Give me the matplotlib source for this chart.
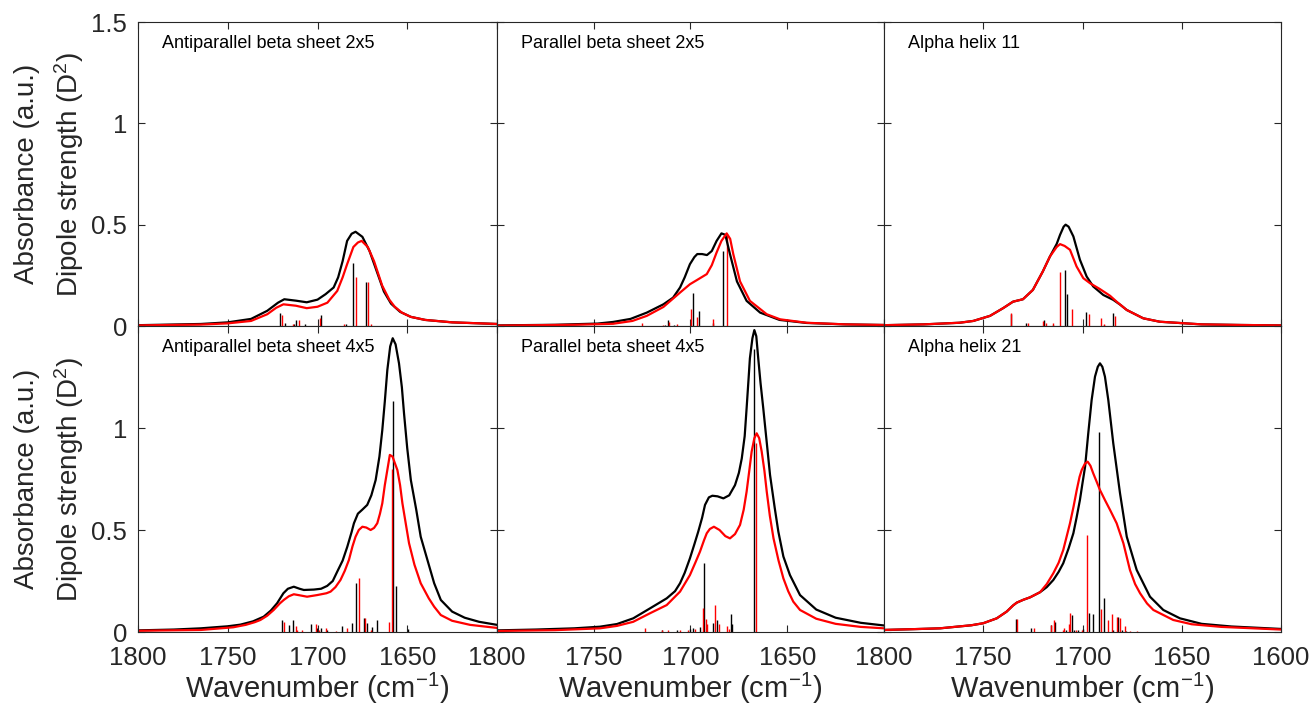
import matplotlib
matplotlib.use('Agg')
import matplotlib.pyplot as plt
import numpy as np

plt.rcParams['font.family'] = ['Liberation Sans', 'DejaVu Sans']
plt.rcParams['mathtext.default'] = 'regular'

# ---- data (wavenumber in cm-1, absorbance / dipole strength) ----

# Antiparallel beta sheet 2x5
anti25_black_wn = [1800, 1765, 1750, 1737, 1728, 1722, 1718.5, 1712, 1706, 1700, 1695.5, 1691, 1688.5, 1686, 1683.5, 1681, 1678.8,
                   1675, 1671, 1667, 1663, 1659, 1654, 1648, 1640, 1625, 1600]
anti25_black = [0.004, 0.01, 0.018, 0.035, 0.075, 0.115, 0.132, 0.125, 0.117, 0.13, 0.157, 0.19, 0.24, 0.32, 0.42, 0.455, 0.465,
                0.44, 0.37, 0.27, 0.17, 0.11, 0.07, 0.045, 0.03, 0.018, 0.01]
anti25_red_wn = [1800, 1765, 1750, 1737, 1728, 1723, 1719, 1712, 1706, 1700, 1694.5, 1689, 1686, 1683.5, 1680, 1677.5, 1675.4,
                 1672, 1668.5, 1664, 1660, 1657, 1653, 1648, 1640, 1625, 1600]
anti25_red = [0.003, 0.007, 0.013, 0.025, 0.058, 0.09, 0.107, 0.1, 0.088, 0.095, 0.115, 0.173, 0.24, 0.305, 0.39, 0.412, 0.42,
              0.39, 0.32, 0.2, 0.13, 0.095, 0.066, 0.045, 0.03, 0.018, 0.01]
anti25_stick_black_wn = [1720.7, 1717.9, 1713.2, 1712.0, 1707.0, 1697.9, 1684.2, 1680.1, 1672.8]
anti25_stick_black = [0.066, 0.016, 0.01, 0.030, 0.010, 0.056, 0.008, 0.313, 0.215]
anti25_stick_red_wn = [1719.6, 1713.6, 1710.3, 1698.7, 1685.3, 1678.6, 1672.0, 1670.4]
anti25_stick_red = [0.052, 0.008, 0.030, 0.038, 0.008, 0.243, 0.218, 0.012]

# Parallel beta sheet 2x5
par25_black_wn = [1800, 1770, 1748, 1740, 1731, 1722.6, 1714, 1709, 1705.4, 1703, 1700.3, 1698, 1696.5, 1694, 1691.5, 1689,
                  1686.5, 1684, 1682, 1679.6, 1676, 1671, 1664, 1654, 1640, 1620, 1600]
par25_black = [0.003, 0.006, 0.012, 0.02, 0.035, 0.066, 0.107, 0.14, 0.19, 0.24, 0.305, 0.34, 0.355, 0.355, 0.35, 0.37,
               0.42, 0.457, 0.45, 0.355, 0.22, 0.124, 0.066, 0.03, 0.015, 0.008, 0.005]
par25_red_wn = [1800, 1760, 1740, 1730, 1722.6, 1714, 1705.4, 1700.3, 1696.8, 1691.6, 1689, 1686.5, 1684, 1681.3, 1679.5,
                1677.9, 1674.4, 1669.3, 1660.6, 1653.7, 1640, 1620, 1600]
par25_red = [0.002, 0.006, 0.011, 0.025, 0.05, 0.094, 0.165, 0.206, 0.226, 0.256, 0.3, 0.363, 0.42, 0.457, 0.43,
             0.355, 0.22, 0.124, 0.058, 0.033, 0.016, 0.008, 0.005]
par25_stick_black_wn = [1713.2, 1711.8, 1708.5, 1698.9, 1695.8, 1688.2, 1683.4]
par25_stick_black = [0.006, 0.030, 0.006, 0.165, 0.076, 0.013, 0.371]
par25_stick_red_wn = [1725.1, 1714.0, 1711.0, 1706.8, 1699.9, 1696.8, 1688.6, 1681.0]
par25_stick_red = [0.016, 0.005, 0.021, 0.010, 0.083, 0.043, 0.033, 0.45]

# Alpha helix 11
ah11_black_wn = [1800, 1780, 1762, 1755, 1746.6, 1740, 1735, 1730, 1725, 1720, 1716.4, 1713, 1711.3, 1709.5, 1708.5, 1707,
                 1704.6, 1701.3, 1697.9, 1694.6, 1689.5, 1684.5, 1681, 1677.7, 1669.4, 1661, 1640, 1620, 1600]
ah11_black = [0.004, 0.008, 0.016, 0.025, 0.05, 0.088, 0.12, 0.132, 0.178, 0.269, 0.343, 0.405, 0.45, 0.49, 0.5, 0.49,
              0.442, 0.327, 0.244, 0.195, 0.153, 0.129, 0.105, 0.079, 0.038, 0.021, 0.008, 0.005, 0.003]
ah11_red_wn = [1800, 1780, 1762, 1755, 1746.6, 1740, 1735, 1730, 1725, 1720, 1716.4, 1713, 1711.3, 1709, 1706.3, 1703,
               1699.6, 1696.2, 1691.2, 1686.1, 1682.8, 1677.7, 1669.4, 1661, 1640, 1620, 1600]
ah11_red = [0.004, 0.008, 0.016, 0.025, 0.05, 0.088, 0.12, 0.132, 0.178, 0.269, 0.343, 0.39, 0.404, 0.395, 0.376, 0.294,
            0.236, 0.211, 0.182, 0.149, 0.12, 0.079, 0.038, 0.021, 0.008, 0.005, 0.003]
ah11_stick_black_wn = [1736.0, 1728.6, 1719.4, 1714.8, 1709.0, 1707.8, 1698.4, 1689.0, 1684.5]
ah11_stick_black = [0.06, 0.016, 0.03, 0.006, 0.277, 0.157, 0.068, 0.006, 0.063]
ah11_stick_red_wn = [1736.2, 1727.3, 1719.8, 1718.4, 1715.0, 1711.5, 1705.4, 1696.9, 1690.9, 1689.2, 1683.5]
ah11_stick_red = [0.063, 0.016, 0.025, 0.016, 0.016, 0.267, 0.084, 0.058, 0.038, 0.010, 0.050]

# Antiparallel beta sheet 4x5
anti45_black_wn = [1800, 1780, 1765, 1750, 1743, 1736, 1730, 1726, 1722.5, 1719, 1716.5, 1713.2, 1710, 1707.6, 1702, 1698,
                   1694.6, 1691.5, 1689, 1686, 1683.4, 1681, 1679.7, 1677.5, 1675, 1672.3, 1670, 1667.6, 1665.5, 1663.9,
                   1662.5, 1661.1, 1659.5, 1658.1, 1656.5, 1654.6, 1653, 1651.8, 1650, 1648, 1645, 1642.5, 1638, 1635,
                   1631.3, 1625, 1618, 1610, 1600]
anti45_black = [0.008, 0.012, 0.018, 0.028, 0.036, 0.052, 0.075, 0.105, 0.141, 0.19, 0.212, 0.222, 0.212, 0.206, 0.208, 0.212,
                0.226, 0.25, 0.296, 0.35, 0.418, 0.49, 0.533, 0.58, 0.6, 0.623, 0.67, 0.745, 0.86, 0.99,
                1.13, 1.284, 1.4, 1.44, 1.41, 1.317, 1.2, 1.072, 0.9, 0.745, 0.6, 0.467, 0.33, 0.239,
                0.157, 0.1, 0.07, 0.05, 0.035]
anti45_red_wn = [1800, 1765, 1747, 1740, 1735, 1731.8, 1728, 1724.4, 1721, 1718.8, 1716, 1713.2, 1710, 1705.8, 1700.2, 1695,
                 1692.7, 1690, 1687.2, 1684.8, 1682.5, 1680.5, 1678.8, 1677, 1675, 1672.8, 1670.4, 1668.5, 1666.7, 1665.2,
                 1663.9, 1662.5, 1661.1, 1659.7, 1658.2, 1657, 1655.5, 1654, 1652.7, 1650.8, 1649, 1646, 1642.5, 1638,
                 1635, 1631.3, 1625, 1615, 1600]
anti45_red = [0.006, 0.01, 0.023, 0.035, 0.048, 0.059, 0.08, 0.108, 0.14, 0.157, 0.175, 0.185, 0.18, 0.173, 0.181, 0.19,
              0.198, 0.22, 0.255, 0.3, 0.353, 0.42, 0.467, 0.5, 0.516, 0.512, 0.5, 0.51, 0.533, 0.58,
              0.631, 0.72, 0.794, 0.868, 0.86, 0.83, 0.794, 0.72, 0.631, 0.53, 0.435, 0.33, 0.239, 0.165,
              0.124, 0.083, 0.055, 0.035, 0.02]
anti45_stick_black_wn = [1719.6, 1715.6, 1713.6, 1703.4, 1700.2, 1697.8, 1694.5, 1686.3, 1680.7, 1678.4, 1673.9, 1672.3,
                         1669.4, 1666.7, 1657.9, 1656.3, 1649.6]
anti45_stick_black = [0.061, 0.032, 0.061, 0.037, 0.02, 0.02, 0.01, 0.028, 0.042, 0.238, 0.07, 0.045,
                      0.025, 0.061, 1.13, 0.225, 0.015]
anti45_stick_red_wn = [1718.8, 1712.1, 1711.4, 1708.5, 1701.0, 1699.2, 1695.0, 1689.5, 1683.4, 1677.1, 1673.3, 1670.2,
                       1660.2, 1658.5]
anti45_stick_red = [0.048, 0.028, 0.012, 0.012, 0.037, 0.01, 0.018, 0.006, 0.02, 0.266, 0.07, 0.01, 0.05, 0.80]

# Parallel beta sheet 4x5
par45_black_wn = [1800, 1780, 1760, 1746.8, 1738, 1729.6, 1720.9, 1712.3, 1708, 1705.4, 1703, 1700.3, 1698, 1696, 1694,
                  1692.5, 1690.5, 1688.7, 1686, 1683, 1680, 1677, 1675, 1673.5, 1672, 1671, 1670, 1669.3, 1668, 1667,
                  1666, 1665, 1663.8, 1662.4, 1660.5, 1658.9, 1656.5, 1654.6, 1652, 1648.6, 1643.4, 1635, 1625, 1612,
                  1600]
par45_black = [0.008, 0.012, 0.018, 0.026, 0.039, 0.067, 0.116, 0.165, 0.2, 0.239, 0.29, 0.361, 0.43, 0.492, 0.56,
               0.623, 0.66, 0.668, 0.665, 0.655, 0.67, 0.72, 0.78, 0.851, 0.96, 1.097, 1.24, 1.342, 1.44, 1.48,
               1.45, 1.342, 1.22, 1.097, 0.92, 0.77, 0.61, 0.492, 0.37, 0.279, 0.181, 0.11, 0.07, 0.045,
               0.032]
par45_red_wn = [1800, 1770, 1746.8, 1738, 1729.6, 1720.9, 1712.3, 1705.4, 1700.3, 1697.5, 1695.1, 1693, 1691.6, 1690,
                1687.9, 1685, 1682, 1679.6, 1677, 1674.4, 1672.5, 1671, 1669.5, 1668.4, 1667, 1665.8, 1664.5, 1663.2,
                1661.8, 1660.6, 1659, 1657.1, 1654.5, 1652, 1649.5, 1646.9, 1643.4, 1635, 1625, 1612, 1600]
par45_red = [0.005, 0.009, 0.018, 0.03, 0.05, 0.092, 0.132, 0.198, 0.279, 0.34, 0.394, 0.45, 0.484, 0.505,
             0.516, 0.5, 0.47, 0.459, 0.48, 0.525, 0.6, 0.688, 0.8, 0.884, 0.95, 0.974, 0.95, 0.884,
             0.79, 0.688, 0.57, 0.459, 0.35, 0.263, 0.2, 0.149, 0.108, 0.065, 0.04, 0.025, 0.018]
par45_stick_black_wn = [1714.5, 1706.8, 1700.4, 1698.6, 1695.2, 1693.2, 1688.2, 1686.1, 1679.3, 1678.3, 1667.0]
par45_stick_black = [0.01, 0.012, 0.015, 0.02, 0.025, 0.339, 0.045, 0.061, 0.09, 0.04, 1.385]
par45_stick_red_wn = [1723.5, 1714.7, 1711.5, 1705.5, 1701.5, 1697.5, 1693.5, 1692.0, 1691.3, 1687.2, 1685.5, 1681.0,
                      1680.0, 1665.9]
par45_stick_red = [0.02, 0.012, 0.008, 0.012, 0.012, 0.015, 0.12, 0.066, 0.04, 0.13, 0.04, 0.028, 0.015, 0.927]

# Alpha helix 21
ah21_black_wn = [1800, 1785, 1771.8, 1763.4, 1756, 1750, 1743.2, 1738.2, 1735, 1733.1, 1729.8, 1726.4, 1721.4, 1718,
                 1714.7, 1712, 1709.7, 1707, 1704.6, 1703, 1701.3, 1700, 1698.7, 1697.1, 1695.4, 1693.7, 1692.3, 1691.2,
                 1690, 1688.7, 1687, 1684.5, 1681.1, 1677.7, 1672.7, 1666, 1659.3, 1650.9, 1640, 1625, 1600]
ah21_black = [0.01, 0.014, 0.018, 0.026, 0.033, 0.043, 0.067, 0.1, 0.13, 0.144, 0.158, 0.17, 0.195, 0.22,
              0.255, 0.295, 0.337, 0.41, 0.484, 0.56, 0.647, 0.73, 0.81, 0.974, 1.137, 1.252, 1.3, 1.317,
              1.3, 1.252, 1.137, 0.925, 0.68, 0.467, 0.304, 0.173, 0.108, 0.067, 0.04, 0.027, 0.015]
ah21_red_wn = [1800, 1785, 1771.8, 1763.4, 1756, 1750, 1743.2, 1738.2, 1735, 1733.1, 1729.8, 1726.4, 1721.4, 1718,
               1714.7, 1712, 1709.7, 1706.3, 1704.5, 1702.9, 1701.5, 1700.4, 1698.8, 1697.4, 1696, 1694.6, 1692.8,
               1691.2, 1688.6, 1686.1, 1682.8, 1679.4, 1676.1, 1673.5, 1671, 1667.5, 1664.3, 1654.3, 1645, 1630, 1600]
ah21_red = [0.01, 0.014, 0.018, 0.026, 0.033, 0.043, 0.067, 0.1, 0.13, 0.144, 0.158, 0.17, 0.195, 0.235,
            0.288, 0.34, 0.402, 0.533, 0.615, 0.696, 0.76, 0.794, 0.825, 0.835, 0.815, 0.778, 0.735,
            0.696, 0.645, 0.598, 0.533, 0.435, 0.304, 0.235, 0.19, 0.14, 0.108, 0.059, 0.038, 0.025, 0.012]
ah21_stick_black_wn = [1733.3, 1726.1, 1716.0, 1713.9, 1708.5, 1705.4, 1704.3, 1702.1, 1699.6, 1696.6, 1694.9, 1691.5,
                       1689.3, 1684.5, 1682.0, 1680.3, 1678.1]
ah21_stick_black = [0.065, 0.02, 0.033, 0.05, 0.01, 0.083, 0.012, 0.012, 0.015, 0.094, 0.09, 0.98,
                    0.168, 0.01, 0.073, 0.012, 0.005]
ah21_stick_red_wn = [1733.0, 1724.6, 1715.8, 1714.4, 1709.8, 1709.2, 1706.8, 1706.1, 1703.3, 1700.5, 1697.7, 1690.8,
                     1687.3, 1685.0, 1682.8, 1681.0, 1678.6, 1676.0, 1672.7]
ah21_stick_red = [0.065, 0.02, 0.033, 0.058, 0.01, 0.02, 0.04, 0.094, 0.012, 0.012, 0.475, 0.114,
                  0.061, 0.086, 0.073, 0.068, 0.028, 0.006, 0.005]

titles = ['Antiparallel beta sheet 2x5', 'Parallel beta sheet 2x5', 'Alpha helix 11',
          'Antiparallel beta sheet 4x5', 'Parallel beta sheet 4x5', 'Alpha helix 21']

panels = [
    (anti25_black_wn, anti25_black, anti25_red_wn, anti25_red,
     anti25_stick_black_wn, anti25_stick_black, anti25_stick_red_wn, anti25_stick_red),
    (par25_black_wn, par25_black, par25_red_wn, par25_red,
     par25_stick_black_wn, par25_stick_black, par25_stick_red_wn, par25_stick_red),
    (ah11_black_wn, ah11_black, ah11_red_wn, ah11_red,
     ah11_stick_black_wn, ah11_stick_black, ah11_stick_red_wn, ah11_stick_red),
    (anti45_black_wn, anti45_black, anti45_red_wn, anti45_red,
     anti45_stick_black_wn, anti45_stick_black, anti45_stick_red_wn, anti45_stick_red),
    (par45_black_wn, par45_black, par45_red_wn, par45_red,
     par45_stick_black_wn, par45_stick_black, par45_stick_red_wn, par45_stick_red),
    (ah21_black_wn, ah21_black, ah21_red_wn, ah21_red,
     ah21_stick_black_wn, ah21_stick_black, ah21_stick_red_wn, ah21_stick_red),
]

# ---- layout (pixel boxes of the reference, panels are not equal width) ----
W, H = 1316, 725
col_left = [138, 497, 884]
col_width = [359, 387, 397]
row_top = [22, 326]
row_height = [304, 306]
axis_col = '#262626'

fig = plt.figure(figsize=(W / 100, H / 100), dpi=100)

for k in range(6):
    r, c = divmod(k, 3)
    ax = fig.add_axes([col_left[c] / W, 1 - (row_top[r] + row_height[r]) / H,
                       col_width[c] / W, row_height[r] / H])
    bwn, bab, rwn, rab, sbwn, sb, srwn, sr = panels[k]

    ax.vlines(sbwn, 0, sb, color='k', lw=1.0)
    ax.vlines(srwn, 0, sr, color='r', lw=1.0)
    ax.plot(bwn, bab, color='k', lw=1.6)
    ax.plot(rwn, rab, color='r', lw=1.6)

    ax.set_xlim(1800, 1600)
    ax.set_ylim(0, 1.5)
    ax.set_xticks([1800, 1750, 1700, 1650, 1600])
    ax.set_yticks([0, 0.5, 1, 1.5])
    if r == 1:
        xl = ['1800', '1750', '1700', '1650', '1600' if c == 2 else '']
        ax.set_xticklabels(xl)
        ax.set_xlabel('Wavenumber (cm$^{-1}$)', fontsize=21, color=axis_col, labelpad=1)
    else:
        ax.set_xticklabels([])
    if c == 0:
        ax.set_yticklabels(['0', '0.5', '1', '1.5' if r == 0 else ''])
    else:
        ax.set_yticklabels([])

    ax.tick_params(direction='in', top=True, right=True, length=5, width=0.8,
                   color=axis_col, labelcolor=axis_col, labelsize=18.5)
    ax.tick_params(axis='x', pad=10)
    ax.tick_params(axis='y', pad=8)
    for s in ax.spines.values():
        s.set_color(axis_col)
        s.set_linewidth(0.8)

    ax.annotate(titles[k], xy=(0, 1), xycoords='axes fraction', xytext=(24, -26),
                textcoords='offset pixels', fontsize=13, va='baseline', ha='left', color='k')

# two-line y labels for each row
for r in range(2):
    yc = 1 - (row_top[r] + row_height[r] / 2) / H
    fig.text(27 / W, yc, 'Absorbance (a.u.)', rotation=90, ha='center', va='center',
             fontsize=20, color=axis_col)
    fig.text(69 / W, yc, 'Dipole strength (D$^2$)', rotation=90, ha='center', va='center',
             fontsize=20, color=axis_col)

fig.savefig('out.png', dpi=100)
